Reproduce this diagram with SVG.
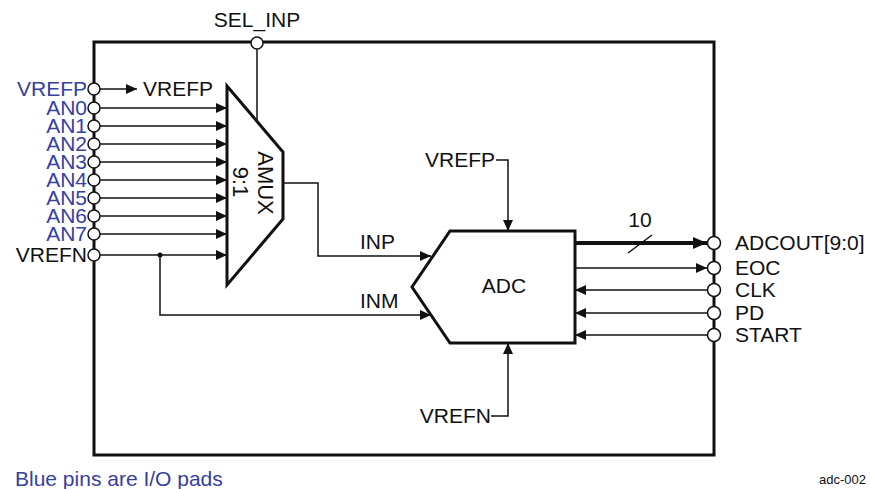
<svg xmlns="http://www.w3.org/2000/svg" width="870" height="489" viewBox="0 0 870 489">
<style>
text{font-family:"Liberation Sans",Arial,sans-serif;font-size:21px;fill:#111}
.blue{fill:#3540a0}
.end{text-anchor:end}
.mid{text-anchor:middle}
.w{fill:none;stroke:#111;stroke-width:1.5}
.thick{fill:none;stroke:#111;stroke-width:3}
.pin{fill:#fff;stroke:#111;stroke-width:1.5}
</style>
<defs>
<marker id="ah" viewBox="0 0 11 10" refX="11" refY="5" markerWidth="11" markerHeight="10" markerUnits="userSpaceOnUse" orient="auto">
<path d="M0,0 L11,5 L0,10 Z" fill="#111"/>
</marker>
<marker id="ahb" viewBox="0 0 14 12" refX="14" refY="6" markerWidth="14" markerHeight="12" markerUnits="userSpaceOnUse" orient="auto">
<path d="M0,0 L14,6 L0,12 Z" fill="#111"/>
</marker>
</defs>
<g id="chip">
<rect x="94" y="42" width="620" height="413" class="thick"/>
</g>
<g id="connectors">
<line x1="100" y1="89" x2="137" y2="89" class="w" marker-end="url(#ah)"/>
<line x1="100" y1="108" x2="227" y2="108" class="w" marker-end="url(#ah)"/>
<line x1="100" y1="126" x2="227" y2="126" class="w" marker-end="url(#ah)"/>
<line x1="100" y1="144" x2="227" y2="144" class="w" marker-end="url(#ah)"/>
<line x1="100" y1="162" x2="227" y2="162" class="w" marker-end="url(#ah)"/>
<line x1="100" y1="180" x2="227" y2="180" class="w" marker-end="url(#ah)"/>
<line x1="100" y1="198" x2="227" y2="198" class="w" marker-end="url(#ah)"/>
<line x1="100" y1="216" x2="227" y2="216" class="w" marker-end="url(#ah)"/>
<line x1="100" y1="234" x2="227" y2="234" class="w" marker-end="url(#ah)"/>
<line x1="100" y1="255" x2="227" y2="255" class="w" marker-end="url(#ah)"/>
<line x1="257" y1="49" x2="257" y2="121" class="w"/>
<polyline points="283,183 318,183 318,256 431,256" class="w" marker-end="url(#ah)"/>
<polyline points="160,255 160,315 431,315" class="w" marker-end="url(#ah)"/>
<circle cx="160" cy="255" r="2.5" fill="#111"/>
<polyline points="496,160 508,160 508,231" class="w" marker-end="url(#ah)"/>
<polyline points="491,416 508,416 508,343" class="w" marker-end="url(#ah)"/>
<line x1="575" y1="243" x2="707" y2="243" stroke="#111" stroke-width="4" marker-end="url(#ahb)"/>
<line x1="628" y1="253" x2="652" y2="235" class="w"/>
<line x1="575" y1="268" x2="707" y2="268" class="w" marker-end="url(#ah)"/>
<line x1="708" y1="290" x2="575" y2="290" class="w" marker-end="url(#ah)"/>
<line x1="708" y1="313" x2="575" y2="313" class="w" marker-end="url(#ah)"/>
<line x1="708" y1="335" x2="575" y2="335" class="w" marker-end="url(#ah)"/>
</g>
<g id="amux">
<polygon points="227,86 283,152 283,219 227,285" class="thick" fill="#fff"/>
<text transform="translate(266,183) rotate(90)" class="mid" dy="8" style="font-size:22px">AMUX</text>
<text transform="translate(241,182) rotate(90)" class="mid" dy="8" style="font-size:22px">9:1</text>
</g>
<g id="adc">
<polygon points="450,231 575,231 575,343 450,343 412,287" class="thick" fill="#fff"/>
<text x="504" y="293" class="mid">ADC</text>
</g>
<g id="left-pins">
<circle cx="94" cy="89" r="6" class="pin"/>
<circle cx="94" cy="108" r="6" class="pin"/>
<circle cx="94" cy="126" r="6" class="pin"/>
<circle cx="94" cy="144" r="6" class="pin"/>
<circle cx="94" cy="162" r="6" class="pin"/>
<circle cx="94" cy="180" r="6" class="pin"/>
<circle cx="94" cy="198" r="6" class="pin"/>
<circle cx="94" cy="216" r="6" class="pin"/>
<circle cx="94" cy="234" r="6" class="pin"/>
<circle cx="94" cy="255" r="6" class="pin"/>
<text x="87" y="96" class="end blue">VREFP</text>
<text x="87" y="115" class="end blue">AN0</text>
<text x="87" y="133" class="end blue">AN1</text>
<text x="87" y="151" class="end blue">AN2</text>
<text x="87" y="169" class="end blue">AN3</text>
<text x="87" y="187" class="end blue">AN4</text>
<text x="87" y="205" class="end blue">AN5</text>
<text x="87" y="223" class="end blue">AN6</text>
<text x="87" y="241" class="end blue">AN7</text>
<text x="87" y="262" class="end">VREFN</text>
</g>
<g id="sel-inp">
<circle cx="257" cy="43" r="6" class="pin"/>
<text x="257" y="27" class="mid">SEL_INP</text>
</g>
<g id="right-pins">
<circle cx="714" cy="243" r="6.5" class="pin"/>
<circle cx="714" cy="268" r="6.5" class="pin"/>
<circle cx="714" cy="290" r="6.5" class="pin"/>
<circle cx="714" cy="313" r="6.5" class="pin"/>
<circle cx="714" cy="335" r="6.5" class="pin"/>
<text x="735" y="250">ADCOUT[9:0]</text>
<text x="735" y="275">EOC</text>
<text x="735" y="297">CLK</text>
<text x="735" y="320">PD</text>
<text x="735" y="342">START</text>
</g>
<g id="labels">
<text x="143" y="96">VREFP</text>
<text x="640" y="227" class="mid">10</text>
<text x="360" y="249">INP</text>
<text x="360" y="308">INM</text>
<text x="495" y="167" class="end">VREFP</text>
<text x="491" y="423" class="end">VREFN</text>
<text x="15" y="486" class="blue">Blue pins are I/O pads</text>
<text x="866" y="484" class="end" style="font-size:13px">adc-002</text>
</g>
</svg>
